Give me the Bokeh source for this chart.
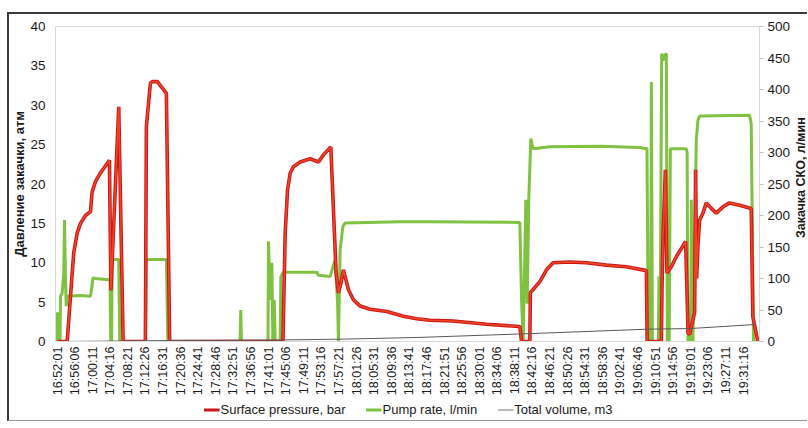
import math
from bokeh.plotting import figure
from bokeh.layouts import column, row
from bokeh.models import Range1d, LinearAxis, FixedTicker, Legend, LegendItem, Label
from bokeh.embed import file_html
from bokeh.resources import INLINE

# ---- tick labels (time of day) ----
tick_labels = ["16:52:01", "16:56:06", "17:00:11", "17:04:16", "17:08:21", "17:12:26",
               "17:16:31", "17:20:36", "17:24:41", "17:28:46", "17:32:51", "17:36:56",
               "17:41:01", "17:45:06", "17:49:11", "17:53:16", "17:57:21", "18:01:26",
               "18:05:31", "18:09:36", "18:13:41", "18:17:46", "18:21:51", "18:25:56",
               "18:30:01", "18:34:06", "18:38:11", "18:42:16", "18:46:21", "18:50:26",
               "18:54:31", "18:58:36", "19:02:41", "19:06:46", "19:10:51", "19:14:56",
               "19:19:01", "19:23:06", "19:27:11", "19:31:16"]

# ---- Surface pressure, bar (minutes after 16:52:01, value) ----
pressure_min = [0.0, 2.25, 3.41, 3.78, 4.57, 5.33, 6.49, 7.65, 8.04, 8.81, 9.97, 11.52, 12.05,
                12.40, 14.21, 15.23, 20.40, 20.63, 21.56, 22.02, 23.18, 23.88, 25.03, 25.27,
                26.03, 52.32, 52.85, 53.39, 54.01, 54.77, 56.33, 58.65, 60.57, 61.73, 63.44,
                64.67, 65.21, 65.83, 66.36, 67.52, 68.68, 70.24, 72.55, 76.43, 80.27, 83.38,
                86.46, 91.86, 99.60, 107.32, 107.72, 109.64, 109.76, 110.41, 111.96, 113.51,
                115.04, 118.91, 122.78, 127.42, 132.05, 136.69, 136.87, 140.17, 140.31,
                140.54, 141.10, 141.47, 142.49, 143.65, 144.81, 145.80, 146.38, 146.73,
                147.89, 148.12, 148.35, 148.65, 149.05, 149.81, 150.60, 151.76, 152.92,
                154.45, 156.00, 158.32, 161.03, 161.40, 162.56]
pressure_val = [0, 0, 8.7, 11.3, 13.8, 15.0, 16.0, 16.5, 19.0, 20.3, 21.4, 22.6, 23.0,
                6.5, 29.8, 0, 0, 27.3, 32.8, 33.0, 33.0, 32.5, 31.7, 31.5,
                0, 0, 13.8, 19.2, 21.4, 22.2, 22.8, 23.2, 22.8, 23.7, 24.7,
                8.7, 6.2, 7.5, 9.1, 6.6, 5.3, 4.5, 4.1, 3.8, 3.2, 2.9,
                2.7, 2.6, 2.2, 1.9, 0, 0, 6.2, 6.6, 7.6, 9.1,
                10.0, 10.1, 10.0, 9.7, 9.5, 9.0, 0, 0, 6.6,
                12.9, 21.8, 8.7, 9.5, 10.8, 11.8, 12.7, 1.1, 0.9,
                3.7, 21.8, 8.0, 12.1, 15.4, 16.3, 17.6, 16.9, 16.3,
                17.1, 17.6, 17.3, 16.9, 3.2, 0]

# ---- Pump rate, l/min ----
rate_min = [-0.46, -0.23, 0.07, 0.30, 0.58, 0.70, 1.09, 1.46, 1.62, 1.85, 2.02, 2.25, 5.33,
            7.65, 8.00, 8.23, 8.81, 11.89, 12.17, 12.36, 12.56, 12.68, 14.21, 14.44, 20.40,
            20.58, 25.27, 25.61, 42.37, 42.54, 42.70, 48.86, 48.97, 49.37, 49.76, 49.99,
            50.30, 50.53, 51.69, 51.85, 52.46, 60.20, 60.57, 63.28, 64.44, 65.02, 65.21,
            65.60, 66.23, 66.76, 79.51, 86.46, 107.32, 107.72, 108.09, 108.71, 109.02,
            109.41, 109.87, 110.41, 114.28, 125.87, 135.14, 136.83, 137.16, 137.69,
            137.85, 138.09, 139.48, 139.62, 139.94, 140.24, 140.54, 140.94, 141.33,
            141.56, 141.98, 142.26, 145.96, 146.15, 146.34, 147.01, 147.13, 147.24,
            147.50, 148.28, 148.65, 149.05, 160.64, 161.03, 161.56, 162.0]
rate_val = [0, 40, 46, 0, 0, 72, 77, 110, 193, 100, 56, 72, 73,
            72, 88, 101, 100, 98, 98, 0, 0, 130, 130, 0, 0,
            130, 130, 0, 0, 50, 0, 0, 159, 66, 125, 0,
            66, 0, 0, 103, 110, 110, 105, 103, 130, 60, 0,
            146, 182, 188, 190, 190, 189, 66, 0, 225, 60,
            230, 322, 306, 309, 310, 308, 306, 0, 0,
            412, 0, 0, 103, 82, 457, 446, 454, 457,
            0, 0, 306, 306, 300, 0, 0, 225, 0,
            0, 320, 351, 358, 359, 346, 0, 0]

# ---- Total volume, m3 ----
volume_min = [0.0, 4.57, 26.2, 52.4, 66.8, 84.1, 107.6, 136.8, 146.7, 162.0]
volume_val = [0, 0.2, 1.5, 2.5, 3.8, 6.5, 12.0, 19.5, 20.5, 27.0]

right_title = "Закачка СКО, л/мин"


def hms(s):
    h, m, sec = (int(v) for v in s.split(":"))
    return h * 3600 + m * 60 + sec


t0 = hms(tick_labels[0])
tick_pos = [hms(s) - t0 for s in tick_labels]

pressure_x = [m * 60 for m in pressure_min]
rate_x = [m * 60 for m in rate_min]
volume_x = [m * 60 for m in volume_min]

FONT = "Liberation Sans"
RED_EDGE = "#c9151b"
RED_FILL = "#f04523"
GREEN = "#7fc241"
GRAY = "#595959"
W = 798
TW = 14
PH = 384

p = figure(width=W - TW, height=PH, x_range=Range1d(-28, 9777), y_range=Range1d(0, 40),
           output_backend="svg", toolbar_location=None,
           min_border_left=46, min_border_right=30, min_border_top=12, min_border_bottom=56)
p.extra_y_ranges = {"right": Range1d(0, 500)}

p.xgrid.visible = False
p.ygrid.visible = False
p.outline_line_color = "#d9d9d9"
p.background_fill_color = "white"

# x axis
xa = p.xaxis[0]
xa.ticker = FixedTicker(ticks=tick_pos)
xa.major_label_overrides = {t: s for t, s in zip(tick_pos, tick_labels)}
xa.major_label_orientation = math.pi / 2
xa.major_label_text_font = FONT
xa.major_label_text_font_size = "12.5px"
xa.major_label_text_color = "#1a1a1a"
xa.major_tick_line_color = None
xa.major_tick_out = 0
xa.major_tick_in = 0
xa.minor_tick_line_color = None
xa.axis_line_color = "#d9d9d9"
xa.major_label_standoff = 5

# left axis
ya = p.yaxis[0]
ya.ticker = FixedTicker(ticks=list(range(0, 41, 5)))
ya.axis_label = "Давление закачки, атм"
ya.axis_label_text_font = FONT
ya.axis_label_text_font_style = "bold"
ya.axis_label_text_font_size = "13px"
ya.axis_label_text_color = "#1a1a1a"
ya.axis_label_standoff = 0
ya.major_label_text_font = FONT
ya.major_label_text_font_size = "13.5px"
ya.major_label_text_color = "#1a1a1a"
ya.major_tick_line_color = None
ya.major_tick_out = 0
ya.major_tick_in = 0
ya.minor_tick_line_color = None
ya.axis_line_color = "#d9d9d9"
ya.major_label_standoff = 10

# right axis (its title is drawn in a narrow strip to the right, reading upwards)
ra = LinearAxis(y_range_name="right", ticker=FixedTicker(ticks=list(range(0, 501, 50))))
ra.major_label_text_font = FONT
ra.major_label_text_font_size = "13.5px"
ra.major_label_text_color = "#1a1a1a"
ra.major_tick_line_color = "#bfbfbf"
ra.major_tick_out = 4
ra.major_tick_in = 0
ra.minor_tick_line_color = None
ra.axis_line_color = "#d9d9d9"
ra.major_label_standoff = 4
p.add_layout(ra, "right")

# series
p.line(rate_x, rate_val, y_range_name="right", line_color=GREEN, line_width=3)
p.line(pressure_x, pressure_val, line_color=RED_EDGE, line_width=3.6)
p.line(pressure_x, pressure_val, line_color=RED_FILL, line_width=1.6)
p.line(volume_x, volume_val, y_range_name="right", line_color=GRAY, line_width=1)

# right axis title strip
tf = figure(width=TW, height=PH, x_range=Range1d(0, 1), y_range=Range1d(0, 1),
            output_backend="svg", toolbar_location=None, min_border=0)
tf.axis.visible = False
tf.grid.visible = False
tf.outline_line_color = None
tf.add_layout(Label(x=0.5, y=0.52, text=right_title, angle=math.pi / 2,
                    text_align="center", text_baseline="middle", text_font=FONT,
                    text_font_style="bold", text_font_size="12.5px", text_color="#1a1a1a"))

# legend strip under the chart (keys drawn from off-screen sample lines)
lf = figure(width=W, height=22, x_range=Range1d(0, 1), y_range=Range1d(0, 1),
            output_backend="svg", toolbar_location=None, min_border=0)
lf.axis.visible = False
lf.grid.visible = False
lf.outline_line_color = None
k_pres = lf.line([-5, -4], [-5, -4], line_color=RED_EDGE, line_width=3)
k_rate = lf.line([-5, -4], [-5, -4], line_color=GREEN, line_width=3)
k_vol = lf.line([-5, -4], [-5, -4], line_color="#a6a6a6", line_width=1.5)

legend = Legend(items=[LegendItem(label="Surface pressure, bar", renderers=[k_pres]),
                       LegendItem(label="Pump rate, l/min", renderers=[k_rate]),
                       LegendItem(label="Total volume, m3", renderers=[k_vol])],
                orientation="horizontal", location="center")
legend.border_line_color = None
legend.background_fill_alpha = 0
legend.label_text_font = FONT
legend.label_text_font_size = "13px"
legend.label_text_color = "#1a1a1a"
legend.glyph_width = 16
legend.glyph_height = 14
legend.label_standoff = 1
legend.spacing = 20
legend.padding = 0
legend.margin = 0
legend.label_height = 14
lf.add_layout(legend)

page = column(row(p, tf), lf, margin=(12, 0, 0, 7),
              styles={"border-left": "2px solid #3a3a3a", "border-top": "2px solid #3a3a3a",
                      "border-bottom": "1px solid #9a9a9a"})

open("out.html", "w").write(file_html(page, INLINE))
